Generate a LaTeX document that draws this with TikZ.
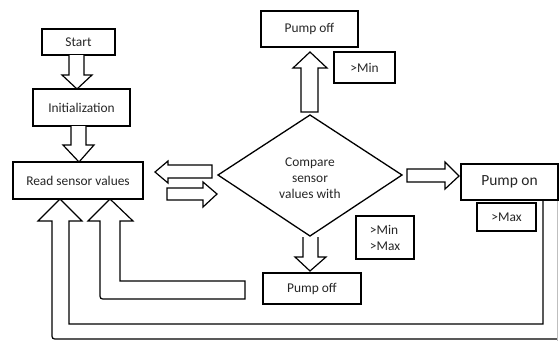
\documentclass[tikz,border=0pt]{standalone}
\usepackage{fontspec}
\setmainfont{Carlito}
\begin{document}
\begin{tikzpicture}[x=1pt,y=-1pt,
  box/.style={draw=black,line width=1.3pt,inner sep=0pt,text=black!85,font=\fontsize{13.4}{16}\selectfont},
  barrow/.style={draw=black,line width=1.2pt,fill=white,line join=miter},
  txt/.style={text=black!85,font=\fontsize{13.4}{16}\selectfont,align=center}]
\useasboundingbox (0,0) rectangle (559,341);
\fill[white] (0,0) rectangle (559,341);
\begin{scope}
\clip (0,0) rectangle (559,341);
% outer feedback arrow
\draw[barrow] (543,200) -- (543,324) -- (69,324) -- (69,221) -- (82,221) -- (60,199) -- (38,221) -- (52,221) -- (52,333) .. controls (52,339) .. (58,339) -- (557,339);
\draw[gray!50,line width=0.8pt] (557.5,200) -- (557.5,341);
% inner feedback arrow
\draw[barrow] (245,281) -- (120,281) -- (120,221) -- (133,221) -- (110,199) -- (88,221) -- (100,221) -- (100,293) .. controls (100,299) .. (106,299) -- (245,299) -- cycle;
\end{scope}
% boxes
\node[box,minimum width=73pt,minimum height=26pt] (start) at (78.5,42) {Start};
\node[box,minimum width=97pt,minimum height=37pt] (init) at (81.5,107.5) {Initialization};
\node[box,minimum width=130pt,minimum height=37pt] (read) at (78,180.5) {Read sensor values};
\node[box,minimum width=97pt,minimum height=36pt] (offtop) at (309.5,29) {Pump off};
\node[box,minimum width=61pt,minimum height=31pt] (mintop) at (364.5,67.5) {>Min};
\node[box,minimum width=98pt,minimum height=31pt] (offbot) at (312,288.5) {Pump off};
\node[box,minimum width=58pt,minimum height=43pt,align=left] (minmax) at (385,237.5) {>Min\\>Max};
\node[box,minimum width=97pt,minimum height=36pt,font=\fontsize{15.5}{18}\selectfont] (pumpon) at (509.5,182) {Pump on};
\node[box,minimum width=59pt,minimum height=28pt] (maxbox) at (506.5,217) {>Max};
% diamond
\coordinate (dl) at (218,175);
\coordinate (dt) at (310,115);
\coordinate (dr) at (402,175);
\coordinate (db) at (310,236);
\draw[line width=1.3pt,line join=miter] (dl) -- (dt) -- (dr) -- (db) -- cycle;
\node[txt] (cmp) at (310,178) {Compare\\sensor\\values with};
% block arrows
\draw[barrow] (69,55) -- (69,75) -- (62,75) -- (77,89) -- (92,75) -- (84,75) -- (84,55);
\draw[barrow] (71,126) -- (71,145) -- (63,145) -- (79,162) -- (94,145) -- (86,145) -- (86,126);
\draw[barrow] (212,165) -- (168,165) -- (168,161) -- (155,172) -- (168,183) -- (168,178) -- (212,178) -- cycle;
\draw[barrow] (167,188) -- (203,188) -- (203,182) -- (217,194) -- (203,207) -- (203,200) -- (167,200) -- cycle;
\draw[barrow] (301,112) -- (301,68) -- (293,68) -- (310,52) -- (327,68) -- (318,68) -- (318,112) -- cycle;
\draw[barrow] (303,237) -- (303,257) -- (295,257) -- (310,271) -- (326,257) -- (318,257) -- (318,237);
\draw[barrow] (407,169) -- (445,169) -- (445,162) -- (459,176) -- (445,189) -- (445,182) -- (407,182) -- cycle;
\end{tikzpicture}
\end{document}
